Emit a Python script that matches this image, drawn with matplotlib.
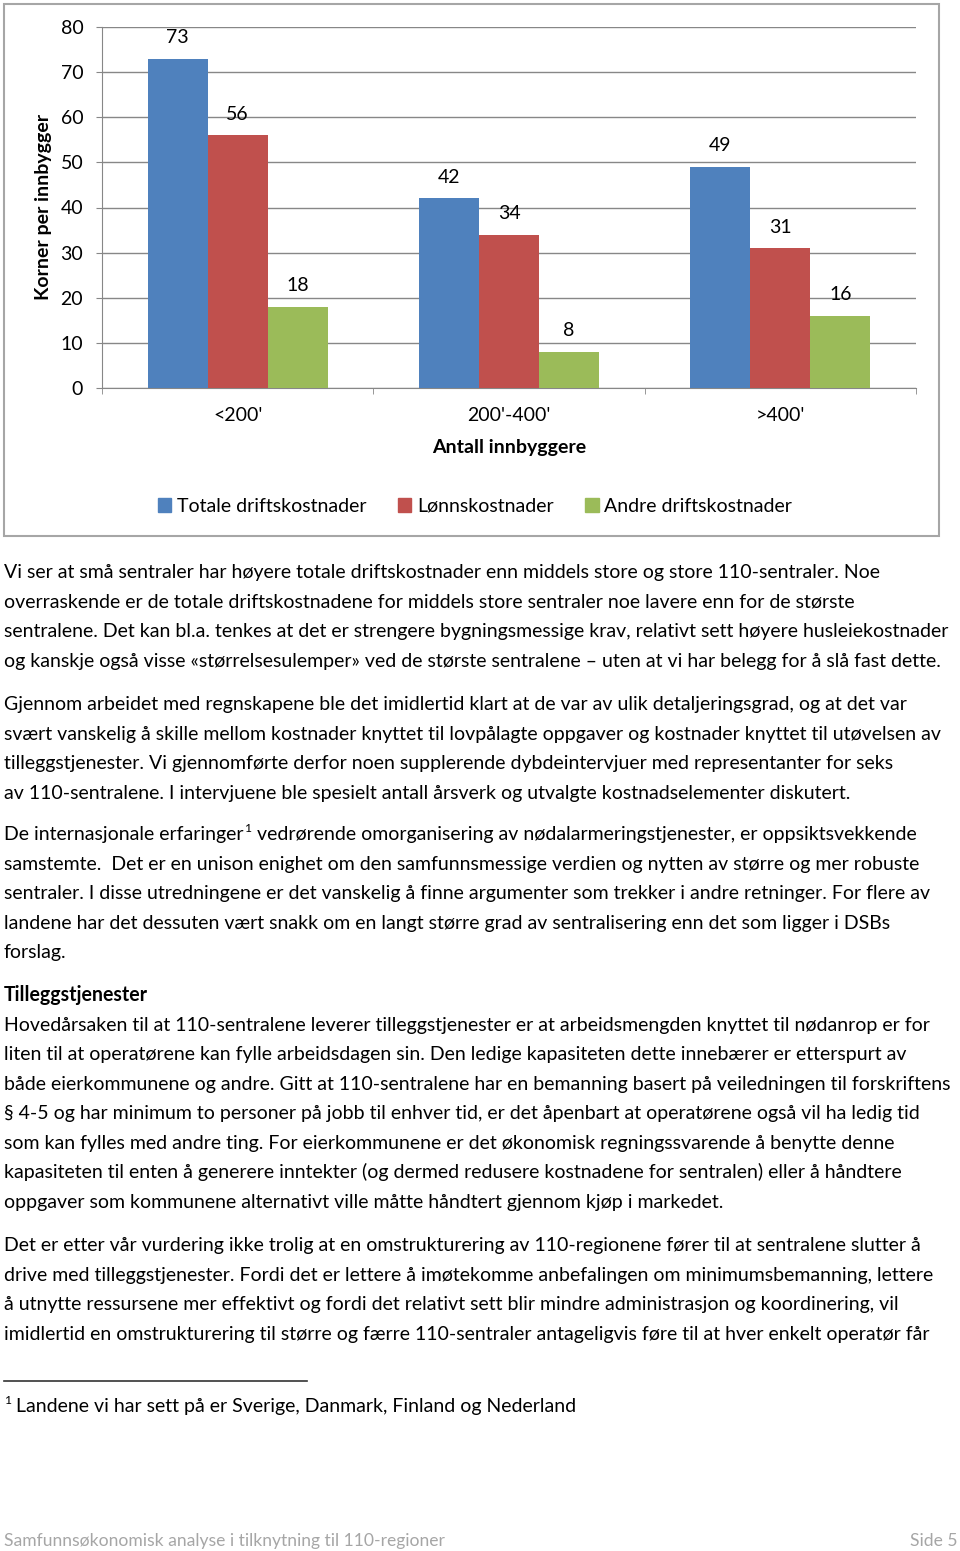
import numpy as np
import matplotlib.pyplot as plt
from matplotlib.patches import Rectangle, Patch
from matplotlib.lines import Line2D

plt.rcParams['font.family'] = ['Lato', 'DejaVu Sans']

# chart data
categories = ["<200'", "200'-400'", ">400'"]
series_names = ["Totale driftskostnader", "Lønnskostnader", "Andre driftskostnader"]
totale = [73, 42, 49]
lonn = [56, 34, 31]
andre = [18, 8, 16]
series_colors = ["#4F81BD", "#C0504D", "#9BBB59"]
y_ticks = [0, 10, 20, 30, 40, 50, 60, 70, 80]
y_label = "Korner per innbygger"
x_label = "Antall innbyggere"

# page text
para1 = [
    "Vi ser at små sentraler har høyere totale driftskostnader enn middels store og store 110-sentraler. Noe",
    "overraskende er de totale driftskostnadene for middels store sentraler noe lavere enn for de største",
    "sentralene. Det kan bl.a. tenkes at det er strengere bygningsmessige krav, relativt sett høyere husleiekostnader",
    "og kanskje også visse «størrelsesulemper» ved de største sentralene – uten at vi har belegg for å slå fast dette.",
]
para2 = [
    "Gjennom arbeidet med regnskapene ble det imidlertid klart at de var av ulik detaljeringsgrad, og at det var",
    "svært vanskelig å skille mellom kostnader knyttet til lovpålagte oppgaver og kostnader knyttet til utøvelsen av",
    "tilleggstjenester. Vi gjennomførte derfor noen supplerende dybdeintervjuer med representanter for seks",
    "av 110-sentralene. I intervjuene ble spesielt antall årsverk og utvalgte kostnadselementer diskutert.",
]
para3_first = ("De internasjonale erfaringer", "1",
               " vedrørende omorganisering av nødalarmeringstjenester, er oppsiktsvekkende")
para3 = [
    "samstemte.  Det er en unison enighet om den samfunnsmessige verdien og nytten av større og mer robuste",
    "sentraler. I disse utredningene er det vanskelig å finne argumenter som trekker i andre retninger. For flere av",
    "landene har det dessuten vært snakk om en langt større grad av sentralisering enn det som ligger i DSBs",
    "forslag.",
]
heading = "Tilleggstjenester"
para4 = [
    "Hovedårsaken til at 110-sentralene leverer tilleggstjenester er at arbeidsmengden knyttet til nødanrop er for",
    "liten til at operatørene kan fylle arbeidsdagen sin. Den ledige kapasiteten dette innebærer er etterspurt av",
    "både eierkommunene og andre. Gitt at 110-sentralene har en bemanning basert på veiledningen til forskriftens",
    "§ 4-5 og har minimum to personer på jobb til enhver tid, er det åpenbart at operatørene også vil ha ledig tid",
    "som kan fylles med andre ting. For eierkommunene er det økonomisk regningssvarende å benytte denne",
    "kapasiteten til enten å generere inntekter (og dermed redusere kostnadene for sentralen) eller å håndtere",
    "oppgaver som kommunene alternativt ville måtte håndtert gjennom kjøp i markedet.",
]
para5 = [
    "Det er etter vår vurdering ikke trolig at en omstrukturering av 110-regionene fører til at sentralene slutter å",
    "drive med tilleggstjenester. Fordi det er lettere å imøtekomme anbefalingen om minimumsbemanning, lettere",
    "å utnytte ressursene mer effektivt og fordi det relativt sett blir mindre administrasjon og koordinering, vil",
    "imidlertid en omstrukturering til større og færre 110-sentraler antageligvis føre til at hver enkelt operatør får",
]
footnote = "Landene vi har sett på er Sverige, Danmark, Finland og Nederland"
footer_left = "Samfunnsøkonomisk analyse i tilknytning til 110-regioner"
footer_right = "Side 5"

W, H = 960, 1551
fig = plt.figure(figsize=(W / 100, H / 100), dpi=100)
renderer = fig.canvas.get_renderer()


def fx(x):
    return x / W


def fy(y):
    return 1 - y / H


def fit_size(s, target_px, weight="normal"):
    t = fig.text(0, 0, s, fontsize=10, fontweight=weight)
    w = t.get_window_extent(renderer).width
    t.remove()
    return 10 * target_px / w


body_fs = fit_size(para1[0], 880)
chart_fs = fit_size(series_names[0], 190)
footer_fs = fit_size(footer_left, 440)
grid_c = "#878787"

# chart frame
fig.add_artist(Rectangle((fx(4), fy(536)), fx(935), 532 / H, transform=fig.transFigure,
                         fill=False, edgecolor="#A6A6A6", lw=1.5))

ax = fig.add_axes([fx(102), fy(388), 814 / W, 361 / H])
x = np.arange(len(categories))
w = 0.221
for i, (vals, name) in enumerate(zip([totale, lonn, andre], series_names)):
    pos = x + (i - 1) * w
    ax.bar(pos, vals, width=w, color=series_colors[i], label=name, zorder=3)
    for p, v in zip(pos, vals):
        ax.annotate(str(v), (p, v), xytext=(0, 15.2), textcoords="offset points",
                    ha="center", va="center", fontsize=chart_fs)

ax.set_xlim(-0.5, len(categories) - 0.5)
ax.set_ylim(0, 80)
ax.set_yticks(y_ticks)
ax.yaxis.grid(True, color=grid_c, lw=1, zorder=0)
ax.set_xticks(x)
ax.set_xticklabels(categories, fontsize=chart_fs)
ax.set_xticks(np.arange(len(categories) + 1) - 0.5, minor=True)
ax.tick_params(axis="x", which="major", length=0, pad=13.5)
ax.tick_params(axis="x", which="minor", length=4.5, color=grid_c, direction="out")
ax.tick_params(axis="y", length=4.5, color=grid_c, labelsize=chart_fs, pad=9)
for s in ["top", "right"]:
    ax.spines[s].set_visible(False)
for s in ["left", "bottom"]:
    ax.spines[s].set_color(grid_c)

fig.text(fx(44), fy(207), y_label, rotation=90, ha="center", va="center",
         fontsize=chart_fs, fontweight="bold")
fig.text(fx(509), fy(448), x_label, ha="center", va="center",
         fontsize=chart_fs, fontweight="bold")

handles = [Patch(color=c, label=n) for c, n in zip(series_colors, series_names)]
fig.legend(handles=handles, loc="center", bbox_to_anchor=(fx(475), fy(506)), ncol=3,
           frameon=False, fontsize=chart_fs, handlelength=0.7, handleheight=0.7,
           handletextpad=0.3, columnspacing=1.6)

# body text
step = 29.55


def draw_lines(lines, y0, bold_first=False):
    for k, s in enumerate(lines):
        wgt = "bold" if (bold_first and k == 0) else "normal"
        fig.text(fx(4), fy(y0 + k * step + 7), s, ha="left", va="baseline",
                 fontsize=body_fs, fontweight=wgt)


draw_lines(para1, 571)
draw_lines(para2, 703)

# first line of para 3 with superscript
t1 = fig.text(fx(4), fy(833 + 7), para3_first[0], ha="left", va="baseline", fontsize=body_fs)
x1 = t1.get_window_extent(renderer).x1
t2 = fig.text(x1 / W + fx(1), fy(833 - 1), para3_first[1], ha="left", va="baseline",
              fontsize=body_fs * 0.62)
x2 = t2.get_window_extent(renderer).x1
fig.text(x2 / W, fy(833 + 7), para3_first[2], ha="left", va="baseline", fontsize=body_fs)
draw_lines(para3, 833 + step)

draw_lines([heading] + para4, 994, bold_first=True)
draw_lines(para5, 1244)

# footnote
fig.add_artist(Line2D([fx(4), fx(307)], [fy(1381), fy(1381)], transform=fig.transFigure,
                      color="#333333", lw=1.2))
fig.text(fx(4), fy(1405 - 1), "1", ha="left", va="baseline", fontsize=body_fs * 0.62)
fig.text(fx(16), fy(1405 + 7), footnote, ha="left", va="baseline", fontsize=body_fs)

# footer
fig.text(fx(4), fy(1540 + 6), footer_left, ha="left", va="baseline", fontsize=footer_fs, color="#A6A6A6")
fig.text(fx(958), fy(1540 + 6), footer_right, ha="right", va="baseline", fontsize=footer_fs, color="#A6A6A6")

fig.savefig("out.png", dpi=100)
